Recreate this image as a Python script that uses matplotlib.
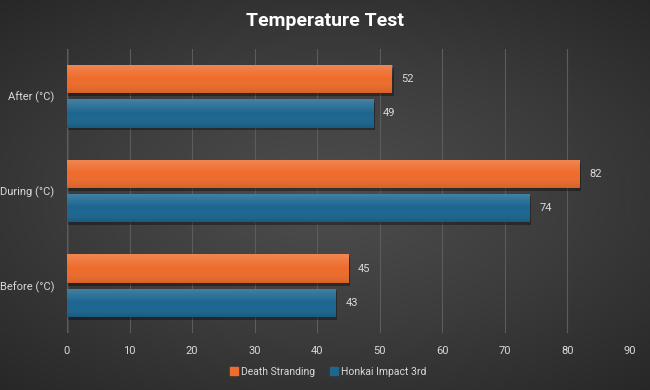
#!/usr/bin/env python3
"""Temperature test horizontal bar chart, dark gradient style."""

import numpy as np
import matplotlib
matplotlib.use("Agg")
import matplotlib.pyplot as plt
from matplotlib.patches import Rectangle
from matplotlib.colors import LinearSegmentedColormap

plt.rcParams["font.family"] = ["Roboto", "DejaVu Sans"]

# data
categories = ["Before (°C)", "During (°C)", "After (°C)"]
series_names = ["Death Stranding", "Honkai Impact 3rd"]
death_stranding = [45, 82, 52]
honkai_impact = [43, 74, 49]

colors = ["#EE6C2C", "#1C6690"]
text_color = "#d9d9d9"

fig = plt.figure(figsize=(6.5, 3.9), dpi=100)

# radial background gradient
bg = fig.add_axes([0, 0, 1, 1], zorder=-10)
yy, xx = np.mgrid[-1:1:300j, -1:1:500j]
r = np.sqrt((xx / 1.1) ** 2 + (yy / 1.0) ** 2)
bg.imshow(r, cmap=LinearSegmentedColormap.from_list("bg", ["#4e4e4e", "#3c3c3c", "#262626"]),
          extent=[0, 1, 0, 1], aspect="auto", vmin=0, vmax=1.4)
bg.axis("off")

ax = fig.add_axes([67 / 650, 1 - 333 / 390, (630 - 67) / 650, (333 - 49) / 390])
ax.patch.set_alpha(0)

y = np.arange(len(categories))
h = 0.30
off = 0.18
sheen = LinearSegmentedColormap.from_list(
    "s", [(0, 0, 0, 0.10), (1, 1, 1, 0.0), (1, 1, 1, 0.18)])


def draw_bars(vals, pos, color):
    bars = ax.barh(pos, vals, height=h, color=color, zorder=3)
    for b, v in zip(bars, vals):
        # shadow
        ax.add_patch(Rectangle((b.get_x() + 0.2, b.get_y() - 0.03), b.get_width(),
                               b.get_height(), color="black", alpha=0.35, zorder=2,
                               linewidth=0))
        # vertical sheen, lighter on top
        grad = np.linspace(0, 1, 50).reshape(-1, 1)
        im = ax.imshow(grad, extent=[0, v, b.get_y(), b.get_y() + b.get_height()],
                       cmap=sheen, aspect="auto", origin="lower", zorder=4)
        im.set_clip_path(b)
        ax.text(v + 1.5, b.get_y() + b.get_height() / 2, str(v), va="center",
                ha="left", color=text_color, fontsize=8)
    return bars


draw_bars(death_stranding, y + off, colors[0])
draw_bars(honkai_impact, y - off, colors[1])

ax.set_xlim(0, 90)
ax.set_ylim(-0.5, 2.5)
ax.set_xticks(np.arange(0, 91, 10))
ax.set_yticks(y)
ax.set_yticklabels(categories)
ax.tick_params(colors=text_color, labelsize=8, length=0, pad=9)
ax.grid(axis="x", color="#5c5c5c", linewidth=0.8, zorder=0)
ax.axvline(0, color="#9a9a9a", linewidth=1, zorder=1)
for s in ax.spines.values():
    s.set_visible(False)
ax.set_aspect("auto")

fig.text(0.5, 0.945, "Temperature Test", ha="center", va="center", color="white",
         fontsize=14, fontweight="bold")

handles = [Rectangle((0, 0), 1, 1, color=c) for c in colors]
fig.legend(handles, series_names, loc="center", bbox_to_anchor=(0.505, 0.047), ncol=2,
           frameon=False, fontsize=7.5, labelcolor=text_color, handlelength=0.7,
           handleheight=0.7, handletextpad=0.3, columnspacing=1.5)

fig.savefig("out.png", dpi=100)
